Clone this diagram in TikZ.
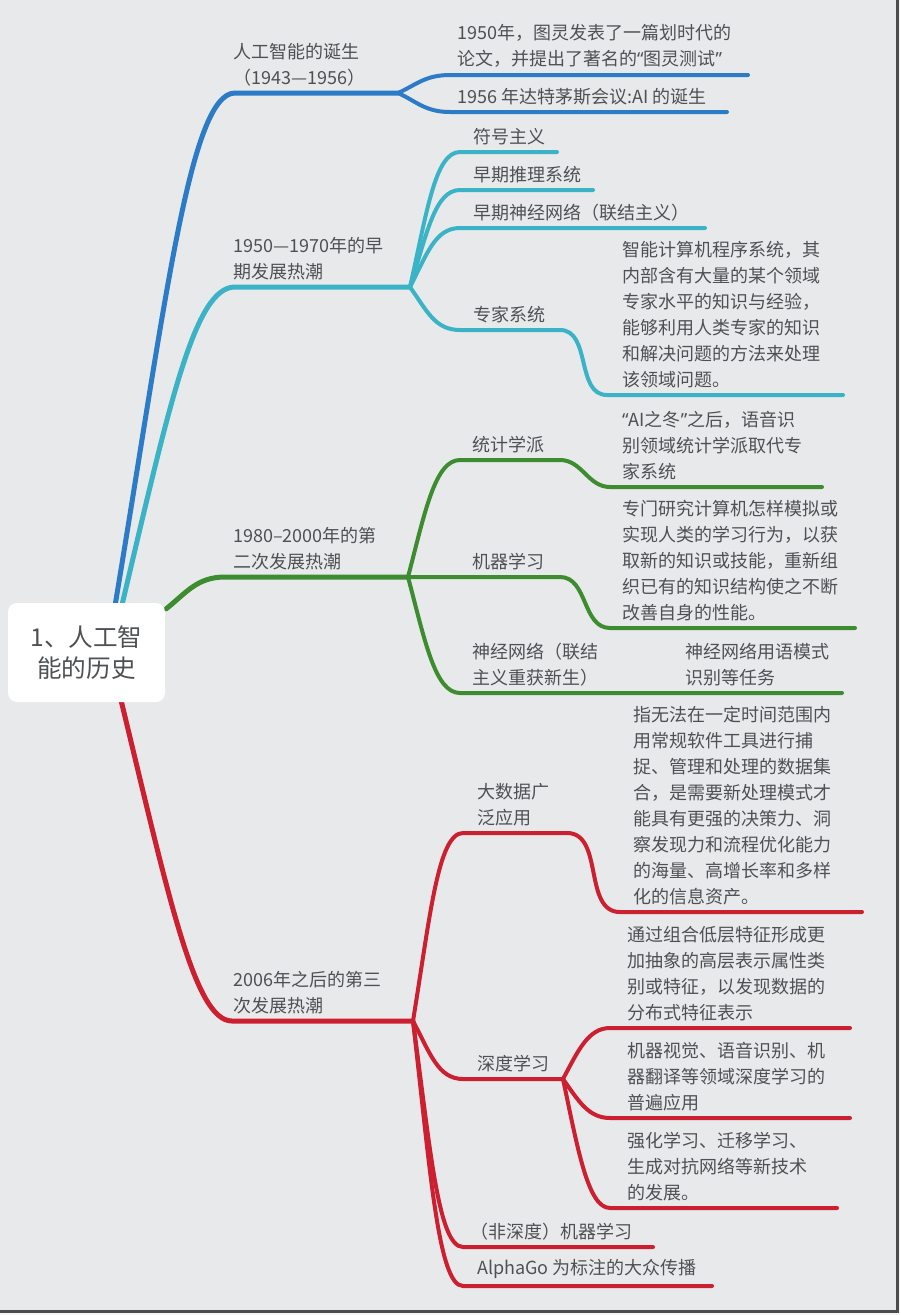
\documentclass[tikz,border=0pt]{standalone}
\usepackage{fontspec}
\setmainfont{Noto Sans CJK SC}
\newfontfamily\westfont{Noto Sans}
\usetikzlibrary{calc,positioning}

\definecolor{paper}{HTML}{E8E9EB}
\definecolor{ink}{HTML}{4E5154}
\definecolor{bluebr}{HTML}{2C7BC6}
\definecolor{cyanbr}{HTML}{3BB3C6}
\definecolor{greenbr}{HTML}{3D8C30}
\definecolor{redbr}{HTML}{CC1F2F}
\pgfdeclarelayer{back}
\pgfsetlayers{back,main}

\begin{document}
\begin{tikzpicture}[x=1pt,y=-1pt,
  lbl/.style={anchor=south west,inner sep=0pt,align=left,text=ink,
    font=\fontsize{18}{26}\selectfont},
  trunk/.style={line width=5pt,line cap=round},
  twig/.style={line width=4pt,line cap=round},
  sbend/.style={out=0,in=180}]
  \useasboundingbox (0,0) rectangle (900,1315);

  % root topic
  \node[fill=white,rounded corners=9pt,minimum width=157pt,minimum height=99pt,
    align=center,text=ink,font=\fontsize{24.6}{31}\selectfont] (root) at (86.5,652.5)
    {1、人工智\\能的历史};

  % branch points and line ends
  \foreach \n/\x/\y in {birth/398/93,turing/450/75,turingEnd/748/75,dart/450/112,dartEnd/727/112,
      early/410/287,symb/460/152,symbEnd/557/152,reason/460/190,reasonEnd/593/190,
      neural/460/228,neuralEnd/705/228,expert/460/330,expertBend/560/330,expertLow/607/395,expertEnd/843/395,
      second/408/577,stat/460/460,statBend/560/460,statLow/610/487,statEnd/822/487,
      mlBend/560/577,mlLow/610/628,mlEnd/855/628,nn/460/693,nnEnd/842/693,
      third/413/1021,big/463/833,bigBend/567/833,bigLow/620/912,bigEnd/862/912,
      deep/463/1079,deepBr/563/1079,deepA/610/1028,deepAEnd/850/1028,
      deepB/610/1118,deepBEnd/850/1118,deepC/610/1208,deepCEnd/837/1208,
      nondeep/463/1247,nondeepEnd/653/1247,alpha/463/1286,alphaEnd/712/1286}
    \coordinate (\n) at (\x,\y);

  \begin{pgfonlayer}{back}
    \fill[paper!40!white] (0,0) rectangle (900,1315);
    \fill[paper] (0,0) rectangle (897,1311);
    \draw[gray!60!black,line width=2.5pt] (897.5,0) -- (897.5,1311.5) -- (0,1311.5);

    % 1943-1956
    \draw[trunk,bluebr] ($(root.north)+(29,0)$) .. controls +(50,-300) and +(-45,0) .. (235,93) -- (birth);
    \draw[twig,bluebr] (birth) .. controls +(18,-8) and +(-25,0) .. (turing) -- (turingEnd);
    \draw[twig,bluebr] (birth) .. controls +(18,8) and +(-25,0) .. (dart) -- (dartEnd);

    % 1950-1970
    \draw[trunk,cyanbr] ($(root.north)+(36,0)$) .. controls +(48,-203) and +(-40,0) .. (235,287) -- (early);
    \draw[twig,cyanbr] (early) .. controls +(17,-75) and +(-25,0) .. (symb) -- (symbEnd);
    \draw[twig,cyanbr] (early) .. controls +(17,-54) and +(-25,0) .. (reason) -- (reasonEnd);
    \draw[twig,cyanbr] (early) .. controls +(17,-33) and +(-25,0) .. (neural) -- (neuralEnd);
    \draw[twig,cyanbr] (early) .. controls +(17,24) and +(-25,0) .. (expert) -- (expertBend)
      to[sbend] (expertLow) -- (expertEnd);

    % 1980-2000
    \draw[trunk,greenbr] ($(root.north east)+(1,6)$) .. controls +(20,-16) and +(-28,0) .. (225,577) -- (second);
    \draw[twig,greenbr] (second) .. controls +(17,-65) and +(-25,0) .. (stat) -- (statBend)
      to[sbend] (statLow) -- (statEnd);
    \draw[twig,greenbr] (second) -- (mlBend) to[sbend] (mlLow) -- (mlEnd);
    \draw[twig,greenbr] (second) .. controls +(17,64) and +(-25,0) .. (nn) -- (nnEnd);

    % 2006-
    \draw[trunk,redbr] ($(root.south)+(35,0)$) .. controls +(48,198) and +(-37,0) .. (232,1021) -- (third);
    \draw[twig,redbr] (third) .. controls +(17,-104) and +(-25,0) .. (big) -- (bigBend)
      to[sbend] (bigLow) -- (bigEnd);
    \draw[twig,redbr] (third) .. controls +(17,32) and +(-25,0) .. (deep) -- (deepBr);
    \draw[twig,redbr] (deepBr) .. controls +(15,-28) and +(-22,0) .. (deepA) -- (deepAEnd);
    \draw[twig,redbr] (deepBr) .. controls +(15,21) and +(-22,0) .. (deepB) -- (deepBEnd);
    \draw[twig,redbr] (deepBr) .. controls +(15,71) and +(-22,0) .. (deepC) -- (deepCEnd);
    \draw[twig,redbr] (third) .. controls +(17,125) and +(-25,0) .. (nondeep) -- (nondeepEnd);
    \draw[twig,redbr] (third) .. controls +(17,146) and +(-25,0) .. (alpha) -- (alphaEnd);
  \end{pgfonlayer}

  % labels
  \node[lbl] (birthLbl) at (233,86) {人工智能的诞生\\（1943—1956）};
  \node[lbl] (turingTxt) at (457,68) {1950年，图灵发表了一篇划时代的\\论文，并提出了著名的{\westfont “}图灵测试{\westfont ”}};
  \node[lbl] (dartTxt) at (457,105) {1956 年达特茅斯会议:AI 的诞生};

  \node[lbl] (earlyLbl) at (233,280) {1950—1970年的早\\期发展热潮};
  \node[lbl] (symbTxt) at (473,145) {符号主义};
  \node[lbl] (reasonTxt) at (473,183) {早期推理系统};
  \node[lbl] (neuralTxt) at (473,221) {早期神经网络（联结主义）};
  \node[lbl] (expertTxt) at (473,323) {专家系统};
  \node[lbl] (expertDet) at (622,388) {智能计算机程序系统，其\\内部含有大量的某个领域\\专家水平的知识与经验，\\能够利用人类专家的知识\\和解决问题的方法来处理\\该领域问题。};

  \node[lbl] (secondLbl) at (233,570) {1980–2000年的第\\二次发展热潮};
  \node[lbl] (statTxt) at (472,453) {统计学派};
  \node[lbl] (statDet) at (622,480) {{\westfont “}AI之冬{\westfont ”}之后，语音识\\别领域统计学派取代专\\家系统};
  \node[lbl] (mlTxt) at (472,570) {机器学习};
  \node[lbl] (mlDet) at (622,621) {专门研究计算机怎样模拟或\\实现人类的学习行为，以获\\取新的知识或技能，重新组\\织已有的知识结构使之不断\\改善自身的性能。};
  \node[lbl] (nnTxt) at (472,686) {神经网络（联结\\主义重获新生）};
  \node[lbl] (nnDet) at (685,686) {神经网络用语模式\\识别等任务};

  \node[lbl] (thirdLbl) at (233,1014) {2006年之后的第三\\次发展热潮};
  \node[lbl] (bigTxt) at (477,826) {大数据广\\泛应用};
  \node[lbl] (bigDet) at (633,905) {指无法在一定时间范围内\\用常规软件工具进行捕\\捉、管理和处理的数据集\\合，是需要新处理模式才\\能具有更强的决策力、洞\\察发现力和流程优化能力\\的海量、高增长率和多样\\化的信息资产。};
  \node[lbl] (deepTxt) at (477,1072) {深度学习};
  \node[lbl] (deepADet) at (627,1021) {通过组合低层特征形成更\\加抽象的高层表示属性类\\别或特征，以发现数据的\\分布式特征表示};
  \node[lbl] (deepBDet) at (627,1111) {机器视觉、语音识别、机\\器翻译等领域深度学习的\\普遍应用};
  \node[lbl] (deepCDet) at (627,1201) {强化学习、迁移学习、\\生成对抗网络等新技术\\的发展。};
  \node[lbl] (nondeepTxt) at (470,1240) {（非深度）机器学习};
  \node[lbl] (alphaTxt) at (477,1279) {AlphaGo 为标注的大众传播};
\end{tikzpicture}
\end{document}
